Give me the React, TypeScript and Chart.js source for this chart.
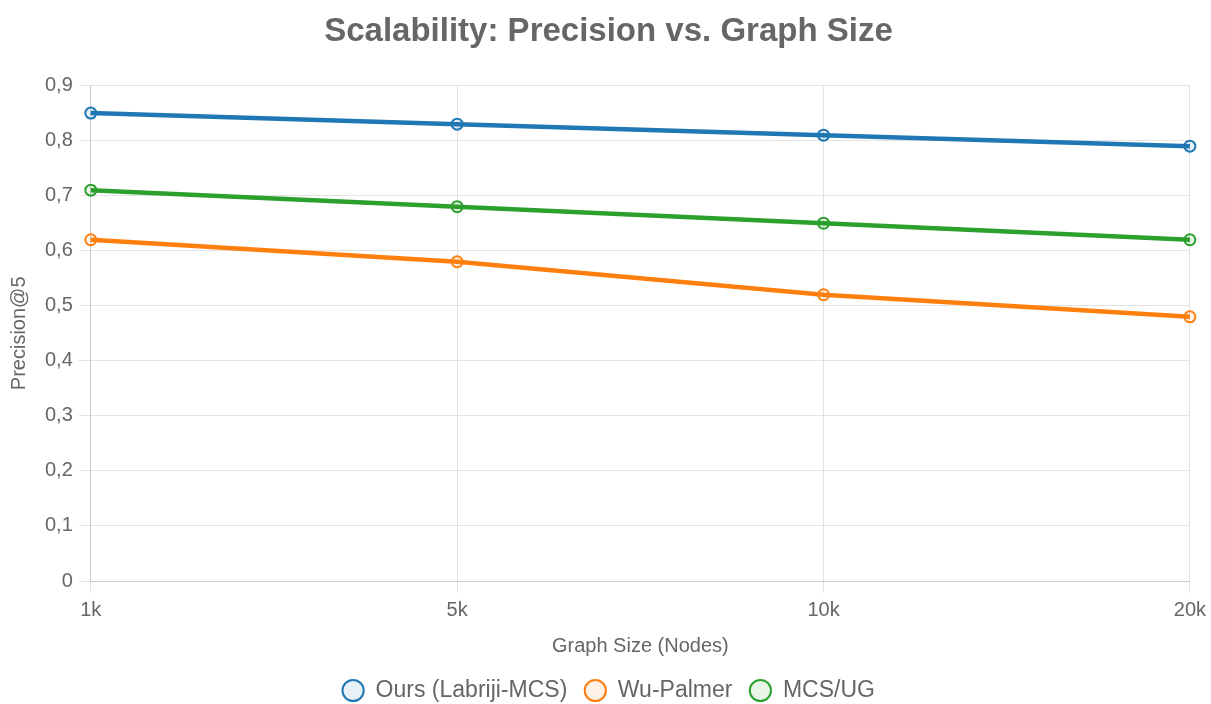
import React, { useEffect, useRef } from "react";
import { Chart, registerables } from "chart.js";

Chart.register(...registerables);

const categories = ["1k", "5k", "10k", "20k"];
const oursValues = [0.85, 0.83, 0.81, 0.79];
const wuPalmerValues = [0.62, 0.58, 0.52, 0.48];
const mcsUgValues = [0.71, 0.68, 0.65, 0.62];

const FONT = "'Liberation Sans', Arial, Helvetica, sans-serif";

export default function App() {
  const ref = useRef<HTMLCanvasElement | null>(null);
  useEffect(() => {
    if (!ref.current) return;
    const mk = (label: string, data: number[], color: string, bg: string) => ({
      label,
      data,
      borderColor: color,
      backgroundColor: bg,
      pointBackgroundColor: bg,
      pointBorderColor: color,
      borderWidth: 4.5,
      pointRadius: 5.5,
      pointBorderWidth: 2,
      tension: 0,
      fill: false,
    });
    const chart = new Chart(ref.current, {
      type: "line",
      data: {
        labels: categories,
        datasets: [
          mk("Ours (Labriji-MCS)", oursValues, "#1f77b4", "rgba(31,119,180,0.1)"),
          mk("Wu-Palmer", wuPalmerValues, "#ff7f0e", "rgba(255,127,14,0.1)"),
          mk("MCS/UG", mcsUgValues, "#2ca02c", "rgba(44,160,44,0.1)"),
        ],
      },
      options: {
        animation: false,
        responsive: true,
        maintainAspectRatio: false,
        locale: "de-DE",
        layout: { padding: { left: 3, right: -3, top: 0, bottom: 0 } },
        plugins: {
          title: {
            display: true,
            text: "Scalability: Precision vs. Graph Size",
            color: "#666",
            font: { size: 33, weight: "bold", family: FONT },
            padding: { top: 12, bottom: 34 },
          },
          legend: {
            position: "bottom",
            labels: {
              usePointStyle: true,
              pointStyle: "circle",
              boxWidth: 22,
              boxHeight: 15,
              color: "#666",
              font: { size: 23, family: FONT },
              padding: 17,
            },
          },
        },
        scales: {
          x: {
            title: {
              display: true,
              text: "Graph Size (Nodes)",
              color: "#666",
              font: { size: 20, family: FONT },
              padding: { top: 7, bottom: 4 },
            },
            ticks: { color: "#666", font: { size: 20, family: FONT }, padding: 5 },
            grid: { color: "#e3e3e3", tickLength: 12 },
          },
          y: {
            min: 0,
            max: 0.9,
            title: {
              display: true,
              text: "Precision@5",
              color: "#666",
              font: { size: 20, family: FONT },
              padding: { top: 4, bottom: 8 },
            },
            ticks: { stepSize: 0.1, color: "#666", font: { size: 20, family: FONT }, padding: 6 },
            grid: { color: "#e3e3e3", tickLength: 12 },
          },
        },
      },
    });
    return () => chart.destroy();
  }, []);
  return (
    <div style={{ position: "absolute", left: 0, top: 0, width: 1211, height: 712, overflow: "hidden" }}>
      <canvas ref={ref} />
    </div>
  );
}
